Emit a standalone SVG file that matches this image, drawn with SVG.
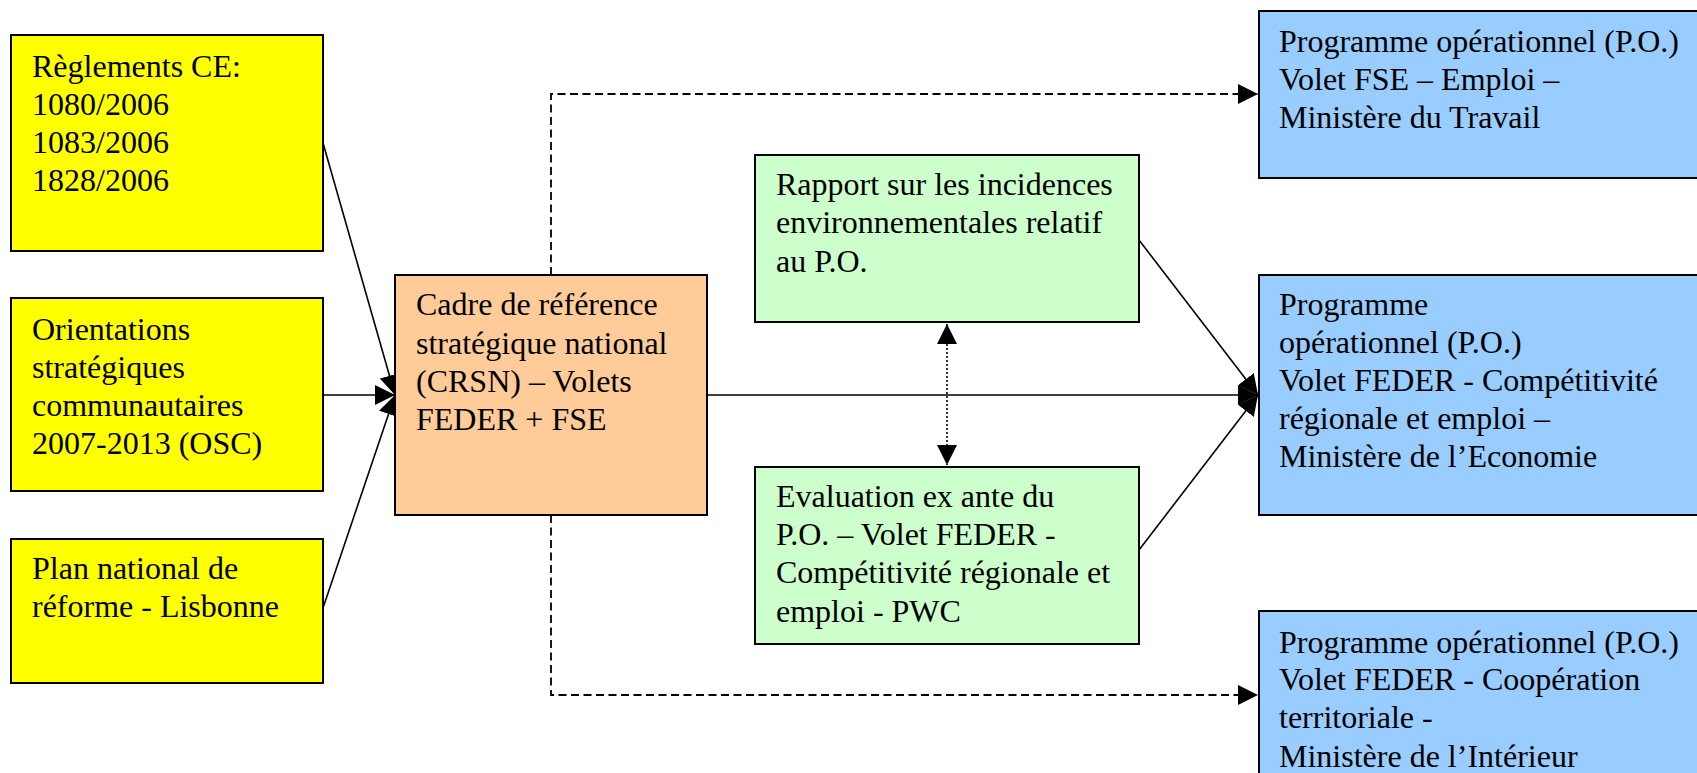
<svg xmlns="http://www.w3.org/2000/svg" width="1697" height="773" viewBox="0 0 1697 773">
  <style>
    .box { stroke: #000; stroke-width: 2; }
    .yellow { fill: #ffff00; }
    .orange { fill: #ffcc99; }
    .green { fill: #ccffcc; }
    .blue { fill: #99ccff; }
    .lbl { font-family: "Liberation Serif", "Times New Roman", serif; font-size: 32px; fill: #000; }
    .solid { fill: none; stroke: #000; stroke-width: 1.6; }
    .dashed { fill: none; stroke: #000; stroke-width: 1.8; stroke-dasharray: 8 4.5; }
    .dotted { fill: none; stroke: #000; stroke-width: 1.6; stroke-dasharray: 2 2; }
  </style>
  <defs>
    <marker id="arrow" markerUnits="userSpaceOnUse" markerWidth="20" markerHeight="20" refX="20" refY="10" orient="auto">
      <path d="M0,0 L20,10 L0,20 z" fill="#000"/>
    </marker>
    <marker id="arrowStart" markerUnits="userSpaceOnUse" markerWidth="20" markerHeight="20" refX="0" refY="10" orient="auto">
      <path d="M20,0 L0,10 L20,20 z" fill="#000"/>
    </marker>
  </defs>

  <rect width="1697" height="773" fill="#fff"/>

  <!-- connectors -->
  <g id="connectors">
    <line class="solid" x1="323" y1="143" x2="395" y2="395" marker-end="url(#arrow)"/>
    <line class="solid" x1="323" y1="395" x2="395" y2="395" marker-end="url(#arrow)"/>
    <line class="solid" x1="323" y1="608" x2="395" y2="395" marker-end="url(#arrow)"/>
    <line class="solid" x1="707" y1="395" x2="1258" y2="395" marker-end="url(#arrow)"/>
    <line class="solid" x1="1139" y1="240" x2="1258" y2="395" marker-end="url(#arrow)"/>
    <line class="solid" x1="1139" y1="550" x2="1258" y2="395" marker-end="url(#arrow)"/>
    <path class="dashed" d="M551,275 V94 H1258" marker-end="url(#arrow)"/>
    <path class="dashed" d="M551,515 V695 H1258" marker-end="url(#arrow)"/>
    <line class="dotted" x1="947" y1="324" x2="947" y2="465" marker-start="url(#arrowStart)" marker-end="url(#arrow)"/>
  </g>

  <!-- source documents -->
  <g id="reglements">
    <rect class="box yellow" x="11" y="35" width="312" height="216"/>
    <text class="lbl" x="32" y="77">Règlements CE:</text>
    <text class="lbl" x="32" y="115">1080/2006</text>
    <text class="lbl" x="32" y="153">1083/2006</text>
    <text class="lbl" x="32" y="191">1828/2006</text>
  </g>
  <g id="osc">
    <rect class="box yellow" x="11" y="298" width="312" height="193"/>
    <text class="lbl" x="32" y="340">Orientations</text>
    <text class="lbl" x="32" y="378">stratégiques</text>
    <text class="lbl" x="32" y="416">communautaires</text>
    <text class="lbl" x="32" y="454">2007-2013 (OSC)</text>
  </g>
  <g id="pnr">
    <rect class="box yellow" x="11" y="539" width="312" height="144"/>
    <text class="lbl" x="32" y="579">Plan national de</text>
    <text class="lbl" x="32" y="617">réforme - Lisbonne</text>
  </g>

  <!-- national framework -->
  <g id="crsn">
    <rect class="box orange" x="395" y="275" width="312" height="240"/>
    <text class="lbl" x="416" y="315">Cadre de référence</text>
    <text class="lbl" x="416" y="354">stratégique national</text>
    <text class="lbl" x="416" y="392">(CRSN) – Volets</text>
    <text class="lbl" x="416" y="430">FEDER + FSE</text>
  </g>

  <!-- assessments -->
  <g id="rapport">
    <rect class="box green" x="755" y="155" width="384" height="167"/>
    <text class="lbl" x="776" y="195">Rapport sur les incidences</text>
    <text class="lbl" x="776" y="233">environnementales relatif</text>
    <text class="lbl" x="776" y="272">au P.O.</text>
  </g>
  <g id="evaluation">
    <rect class="box green" x="755" y="467" width="384" height="177"/>
    <text class="lbl" x="776" y="507">Evaluation ex ante du</text>
    <text class="lbl" x="776" y="545">P.O. – Volet FEDER -</text>
    <text class="lbl" x="776" y="583">Compétitivité régionale et</text>
    <text class="lbl" x="776" y="622">emploi - PWC</text>
  </g>

  <!-- operational programmes -->
  <g id="po-fse">
    <rect class="box blue" x="1259" y="11" width="460" height="167"/>
    <text class="lbl" x="1279" y="52">Programme opérationnel (P.O.)</text>
    <text class="lbl" x="1279" y="90">Volet FSE – Emploi –</text>
    <text class="lbl" x="1279" y="128">Ministère du Travail</text>
  </g>
  <g id="po-feder-competitivite">
    <rect class="box blue" x="1259" y="275" width="460" height="240"/>
    <text class="lbl" x="1279" y="315">Programme</text>
    <text class="lbl" x="1279" y="353">opérationnel (P.O.)</text>
    <text class="lbl" x="1279" y="391">Volet FEDER - Compétitivité</text>
    <text class="lbl" x="1279" y="429">régionale et emploi –</text>
    <text class="lbl" x="1279" y="467">Ministère de l’Economie</text>
  </g>
  <g id="po-feder-cooperation">
    <rect class="box blue" x="1259" y="611" width="460" height="200"/>
    <text class="lbl" x="1279" y="653">Programme opérationnel (P.O.)</text>
    <text class="lbl" x="1279" y="690">Volet FEDER - Coopération</text>
    <text class="lbl" x="1279" y="728">territoriale -</text>
    <text class="lbl" x="1279" y="767">Ministère de l’Intérieur</text>
  </g>
</svg>
